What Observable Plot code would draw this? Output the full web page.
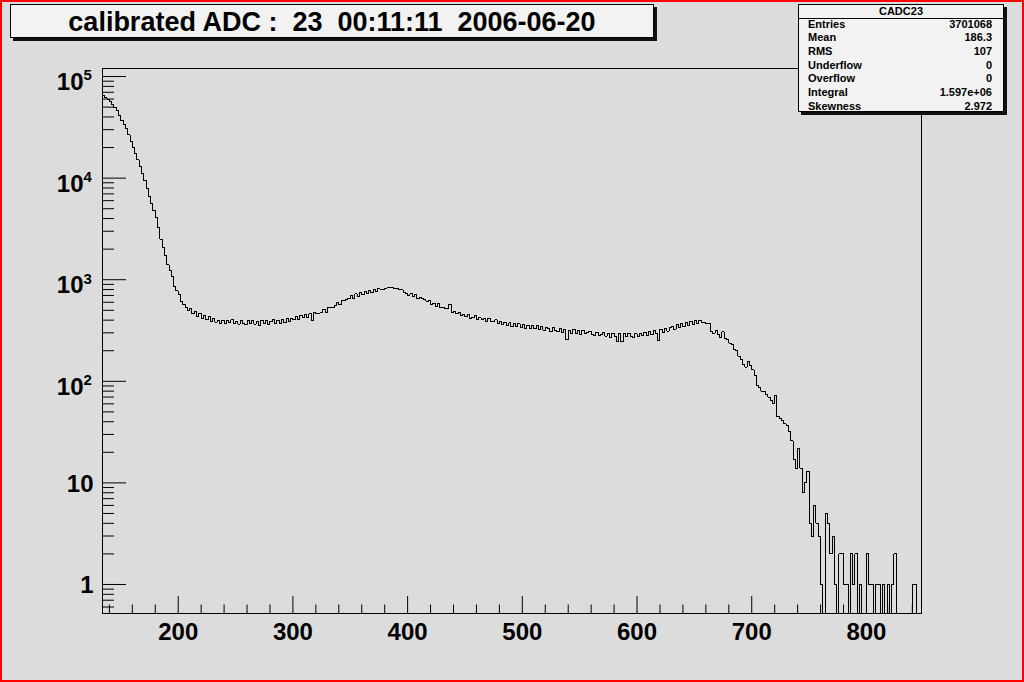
<!DOCTYPE html>
<html>
<head>
<meta charset="utf-8">
<script src="https://cdn.jsdelivr.net/npm/d3@7"></script>
<script src="https://cdn.jsdelivr.net/npm/@observablehq/plot@0.6"></script>
<style>
html, body { margin: 0; padding: 0; background: #dcdcdc; }
#canvas { position: relative; width: 1024px; height: 682px; overflow: hidden; background: #dcdcdc;
  font-family: "Liberation Sans", Arial, Helvetica, sans-serif; }
#chart { position: absolute; left: 0; top: 0; }
#border { position: absolute; left: 0; top: 0; width: 1024px; height: 682px; box-sizing: border-box;
  border: 2px solid #ff0000; pointer-events: none; }
.pave { position: absolute; background: #f2f2f2; border: 1px solid #000; box-shadow: 3px 3px 0 #111; box-sizing: border-box; }
#title { left: 10px; top: 4px; width: 644px; height: 34px; }
#title div { position: absolute; left: 0; right: 0; top: 0; line-height: 34px; text-align: center;
  font-weight: bold; font-size: 27px; white-space: pre; color: #000; }
#stats { left: 798px; top: 4px; width: 206px; height: 108px; }
#stats .hdr { position: absolute; left: 0; right: 0; top: 0; height: 13px; line-height: 13px; text-align: center;
  font-weight: bold; font-size: 11px; border-bottom: 1px solid #000; }
#stats .row { position: absolute; left: 9px; right: 11px; height: 13px; line-height: 13px; font-weight: bold; font-size: 11px; }
#stats .row .v { position: absolute; right: 0; top: 0; }
</style>
</head>
<body>
<div id="canvas">
  <div id="chart"></div>
  <div class="pave" id="title"><div></div></div>
  <div class="pave" id="stats"></div>
  <div id="border"></div>
</div>
<script>
// ---- data (histogram "CADC23", bins of width 2 starting at 134) ----
const binLow = 134;
const binWidth = 2;
const counts = [
  // 134 - 152
  64600, 61700, 58900, 56200, 52500, 49500, 46200, 41200, 36700, 33900,
  // 154 - 172
  30900, 26600, 22900, 19950, 17400, 15100, 12900, 11000, 9440, 7850,
  // 174 - 192
  6610, 5620, 4790, 4070, 3240, 2510, 2090, 1740, 1400, 1230,
  // 194 - 212
  1070, 851, 776, 708, 617, 575, 537, 500, 522, 462,
  // 214 - 232
  492, 430, 466, 418, 447, 405, 431, 392, 412, 383,
  // 234 - 252
  395, 372, 401, 368, 398, 377, 405, 371, 392, 366,
  // 254 - 272
  398, 374, 360, 395, 371, 401, 366, 390, 358, 396,
  // 274 - 292
  370, 399, 362, 391, 404, 368, 396, 372, 402, 378,
  // 294 - 312
  411, 386, 418, 404, 433, 410, 445, 420, 456, 424,
  // 314 - 332
  463, 398, 477, 466, 470, 480, 514, 478, 537, 533,
  // 334 - 352
  530, 552, 601, 566, 624, 628, 640, 658, 702, 655,
  // 354 - 372
  725, 690, 750, 709, 768, 735, 785, 748, 803, 765,
  // 374 - 392
  815, 800, 808, 818, 832, 830, 840, 822, 825, 800,
  // 394 - 412
  798, 757, 740, 692, 725, 688, 714, 655, 662, 646,
  // 414 - 432
  642, 612, 624, 572, 588, 546, 577, 528, 534, 518,
  // 434 - 452
  524, 570, 478, 492, 460, 478, 448, 452, 432, 458,
  // 454 - 472
  418, 425, 440, 410, 422, 404, 415, 390, 418, 384,
  // 474 - 492
  390, 402, 370, 392, 362, 383, 353, 375, 345, 372,
  // 494 - 512
  344, 369, 339, 362, 333, 358, 331, 355, 328, 352,
  // 514 - 532
  323, 347, 318, 342, 333, 311, 338, 314, 306, 332,
  // 534 - 552
  302, 324, 258, 318, 298, 322, 294, 314, 290, 316,
  // 554 - 572
  296, 299, 312, 291, 283, 305, 284, 290, 302, 279,
  // 574 - 592
  298, 272, 295, 276, 248, 293, 244, 296, 275, 298,
  // 594 - 612
  278, 270, 294, 274, 298, 280, 304, 284, 310, 290,
  // 614 - 632
  316, 294, 252, 324, 304, 334, 312, 342, 350, 326,
  // 634 - 652
  359, 338, 369, 348, 377, 357, 390, 365, 395, 370,
  // 654 - 672
  398, 380, 382, 371, 368, 312, 296, 318, 290, 268,
  // 674 - 692
  306, 262, 258, 238, 232, 204, 200, 176, 165, 146,
  // 694 - 712
  138, 155, 144, 130, 114, 91, 86, 80, 79, 74,
  // 714 - 732
  70, 65, 60, 72, 45, 43, 41, 38, 37, 32,
  // 734 - 752
  26, 17, 14, 22, 14, 8, 10, 13, 4, 3,
  // 754 - 772
  6, 4, 3, 1, 0, 5, 4, 2, 3, 1,
  // 774 - 792
  0, 2, 2, 1, 1, 0, 2, 1, 2, 0,
  // 794 - 812
  1, 0, 0, 2, 1, 1, 0, 1, 1, 0,
  // 814 - 832
  1, 0, 1, 0, 1, 2, 0, 0, 0, 0,
  // 834 - 846
  0, 0, 0, 1, 1, 0, 0
];

const xDomain = [134, 848];
const yDomain = [0.518, 1.2e5];
const xMajorTicks = [200, 300, 400, 500, 600, 700, 800];
const xMinorTicks = [140, 160, 180, 220, 240, 260, 280, 320, 340, 360, 380, 420, 440, 460, 480,
  520, 540, 560, 580, 620, 640, 660, 680, 720, 740, 760, 780, 820, 840];
const yMajorTicks = [1, 10, 100, 1000, 10000, 100000];
const yMinorTicks = [0.6, 0.7, 0.8, 0.9,
  2, 3, 4, 5, 6, 7, 8, 9,
  20, 30, 40, 50, 60, 70, 80, 90,
  200, 300, 400, 500, 600, 700, 800, 900,
  2000, 3000, 4000, 5000, 6000, 7000, 8000, 9000,
  20000, 30000, 40000, 50000, 60000, 70000, 80000, 90000];
const yLabelValues = [1, 10, 100, 1000, 10000, 100000];
const yLabelBases = ["1", "10", "10", "10", "10", "10"];
const yLabelExps = ["", "", "2", "3", "4", "5"];

const titleText = "calibrated ADC :  23  00:11:11  2006-06-20";
const statsName = "CADC23";
const statsLabels = ["Entries", "Mean", "RMS", "Underflow", "Overflow", "Integral", "Skewness"];
const statsValues = ["3701068", "186.3", "107", "0", "0", "1.597e+06", "2.972"];

// ---- build step outline ----
const steps = counts.map((c, i) => ({x: binLow + i * binWidth, y: c > 0 ? c : yDomain[0]}));
steps.push({x: binLow + counts.length * binWidth, y: steps[steps.length - 1].y});

const yLabels = yLabelValues.map((v, i) => ({v, base: yLabelBases[i], exp: yLabelExps[i]}));
const yLabelsPlain = yLabels.filter(d => d.exp === "");
const yLabelsExp = yLabels.filter(d => d.exp !== "");

const chart = Plot.plot({
  width: 1024,
  height: 682,
  marginLeft: 102,
  marginRight: 103,
  marginTop: 68,
  marginBottom: 69,
  style: {background: "transparent", fontFamily: "'Liberation Sans', Arial, sans-serif", color: "#000", overflow: "visible"},
  x: {domain: xDomain},
  y: {type: "log", domain: yDomain},
  marks: [
    Plot.frame({stroke: "#000", strokeWidth: 1}),
    Plot.axisX(xMajorTicks, {tickSize: -17, fill: "none", label: null}),
    Plot.axisX(xMinorTicks, {tickSize: -8.5, fill: "none", label: null}),
    Plot.axisX(xMajorTicks, {tickSize: 0, stroke: "none", tickPadding: 9, fontSize: 24, fontWeight: "bold",
      fill: "#000", label: null, tickFormat: d => String(d)}),
    Plot.axisY(yMajorTicks, {tickSize: -24, fill: "none", label: null}),
    Plot.axisY(yMinorTicks, {tickSize: -12, fill: "none", label: null}),
    Plot.text(yLabelsPlain, {y: "v", text: "base", frameAnchor: "left", textAnchor: "end", dx: -9, dy: 1,
      fontSize: 24, fontWeight: "bold", fill: "#000"}),
    Plot.text(yLabelsExp, {y: "v", text: "base", frameAnchor: "left", textAnchor: "end", dx: -19, dy: 6,
      fontSize: 24, fontWeight: "bold", fill: "#000"}),
    Plot.text(yLabelsExp, {y: "v", text: "exp", frameAnchor: "left", textAnchor: "start", dx: -19, dy: -1,
      fontSize: 15, fontWeight: "bold", fill: "#000"}),
    Plot.line(steps, {x: "x", y: "y", curve: "step-after", stroke: "#000", strokeWidth: 1, clip: true,
      shapeRendering: "crispEdges"})
  ]
});
document.getElementById("chart").appendChild(chart);

document.querySelector("#title div").textContent = titleText;
const stats = document.getElementById("stats");
const hdr = document.createElement("div");
hdr.className = "hdr";
hdr.textContent = statsName;
stats.appendChild(hdr);
statsLabels.forEach((lab, i) => {
  const r = document.createElement("div");
  r.className = "row";
  r.style.top = (12.5 + i * 13.67) + "px";
  r.textContent = lab;
  const v = document.createElement("span");
  v.className = "v";
  v.textContent = statsValues[i];
  r.appendChild(v);
  stats.appendChild(r);
});
</script>
</body>
</html>
